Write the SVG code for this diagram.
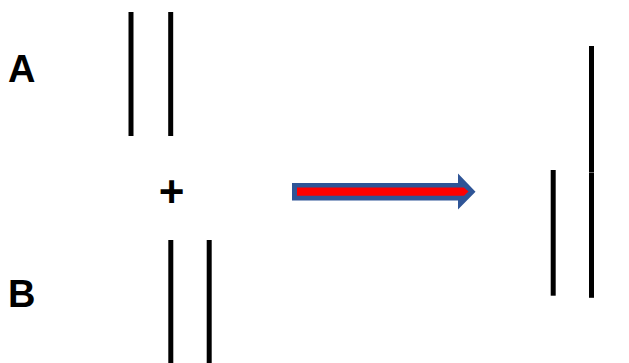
<svg xmlns="http://www.w3.org/2000/svg" width="629" height="363" viewBox="0 0 629 363">
<style>
.lbl{font-family:"Liberation Sans",Arial,sans-serif;font-weight:bold;fill:#000}
.bar{stroke:#000;stroke-width:5;fill:none}
</style>
<rect width="629" height="363" fill="#fff"/>
<g id="labelA"><text class="lbl" x="8" y="82" font-size="38">A</text></g>
<g id="labelB"><text class="lbl" x="8" y="307" font-size="38">B</text></g>
<g id="plus"><text class="lbl" x="171.7" y="207" font-size="44" text-anchor="middle">+</text></g>
<g id="moleculeA">
<line class="bar" x1="131" y1="12" x2="131" y2="136"/>
<line class="bar" x1="170.7" y1="12" x2="170.7" y2="136"/>
</g>
<g id="moleculeB">
<line class="bar" x1="170.8" y1="240" x2="170.8" y2="363"/>
<line class="bar" x1="209.2" y1="240" x2="209.2" y2="363"/>
</g>
<g id="product">
<line class="bar" x1="553.2" y1="170" x2="553.2" y2="295.7"/>
<line class="bar" x1="591.5" y1="46" x2="591.5" y2="172"/>
<line class="bar" x1="591.5" y1="172.4" x2="591.5" y2="297.8"/>
</g>
<g id="connectors">
<polygon points="292,183 458,183 458,173.5 475.5,191.7 458,209.5 458,200.5 292,200.5" fill="#2F5597"/>
<polygon points="297,187.5 464,187.5 468.5,191.6 464,195.7 297,195.7" fill="#FF0000"/>
</g>
</svg>
